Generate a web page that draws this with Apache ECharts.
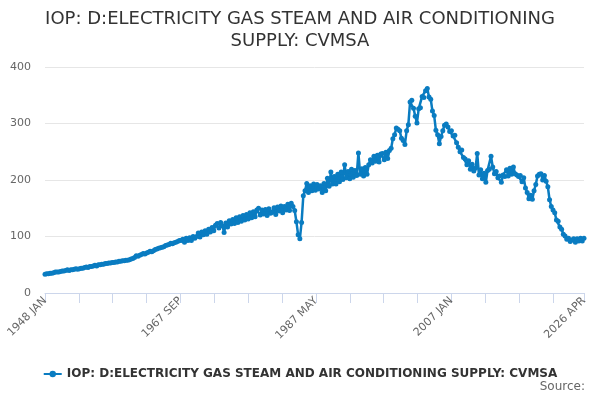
<!DOCTYPE html>
<html>
<head>
<meta charset="utf-8">
<script src="https://cdn.jsdelivr.net/npm/echarts@6/dist/echarts.min.js"></script>
<style>
  html, body { margin: 0; padding: 0; background: #fff; }
  #chart { width: 600px; height: 400px; }
</style>
</head>
<body>
<div id="chart"></div>
<script>
(function () {
  'use strict';

  var MONTHS = ['JAN', 'FEB', 'MAR', 'APR', 'MAY', 'JUN', 'JUL', 'AUG', 'SEP', 'OCT', 'NOV', 'DEC'];
  var FIRST_YEAR = 1948;
  var LAST_YEAR = 2026;
  var LAST_MONTH = 3; // APR

  // readings, one per quarter (JAN, APR, JUL, OCT)
  var values1948to1967 = [
    33, 34, 34, 35,   35, 36, 37, 37,   37, 38, 39, 39,   40, 41, 40, 41,
    41, 42, 43, 42,   43, 44, 44, 45,   46, 45, 47, 47,   48, 49, 48, 50,
    50, 51, 51, 52,   52, 53, 53, 54,   54, 55, 55, 56,   56, 57, 57, 58,
    58, 59, 60, 61,   63, 66, 65, 67,   68, 70, 69, 71,   72, 74, 73, 75,
    77, 78, 79, 80,   81, 82, 84, 85,   86, 88, 87, 89,   90, 91, 93, 93
  ];
  var values1968to1987 = [
    95, 90, 97, 93,   98, 93, 100, 97,  100, 106, 99, 108, 103, 110, 104, 113,
    108, 116, 110, 120, 123, 115, 125, 119, 107, 124, 117, 128, 122, 130, 123, 133,
    125, 135, 127, 137, 129, 139, 131, 142, 133, 144, 135, 147, 150, 138, 147, 140,
    148, 137, 149, 141, 143, 151, 139, 152, 145, 154, 142, 153, 147, 157, 146, 159,
    153, 146, 126, 103, 96, 125, 172, 181, 194, 178, 190, 181, 193, 182, 192, 184
  ];
  var values1988to2007 = [
    190, 178, 194, 181, 203, 189, 214, 193, 206, 193, 210, 197, 214, 201, 227, 204,
    215, 202, 219, 205, 217, 208, 248, 210, 220, 207, 222, 210, 227, 236, 230, 242,
    233, 244, 232, 246, 247, 236, 249, 238, 252, 256, 273, 280, 292, 290, 287, 274,
    270, 263, 287, 298, 338, 341, 327, 313, 301, 326, 328, 348, 346, 358, 362, 347,
    343, 322, 314, 288, 280, 264, 277, 287, 297, 299, 294, 286, 287, 278, 279, 266
  ];
  var values2008to2026 = [
    258, 250, 253, 240, 237, 227, 234, 219, 228, 216, 221, 247, 209, 218, 202, 212,
    196, 217, 219, 242, 223, 211, 215, 204, 207, 196, 209, 206, 218, 207, 221, 210,
    223, 211, 209, 206, 208, 197, 204, 186, 178, 167, 173, 166, 181, 192, 207, 210,
    211, 200, 208, 198, 188, 165, 153, 147, 142, 129, 127, 117, 113, 104, 101, 95,
    97, 91, 94, 96,   90, 96, 92, 97,   92, 97
  ];

  var seriesName = 'IOP: D:ELECTRICITY GAS STEAM AND AIR CONDITIONING SUPPLY: CVMSA';
  var titleText = 'IOP: D:ELECTRICITY GAS STEAM AND AIR CONDITIONING\nSUPPLY: CVMSA';
  var yTicks = { min: 0, max: 400, interval: 100 };

  var categories = [];
  for (var y = FIRST_YEAR; y <= LAST_YEAR; y++) {
    for (var m = 0; m < 12; m++) {
      if (y === LAST_YEAR && m > LAST_MONTH) break;
      categories.push(y + ' ' + MONTHS[m]);
    }
  }

  var quarterly = values1948to1967.concat(values1968to1987, values1988to2007, values2008to2026);
  var data = quarterly.map(function (v, i) { return [categories[i * 3], v]; });

  var COLOR = '#0a7cc1';
  var chart = echarts.init(document.getElementById('chart'), null, { renderer: 'canvas' });
  chart.setOption({
    backgroundColor: '#fff',
    animation: false,
    textStyle: { fontFamily: 'DejaVu Sans' },
    title: [{
      text: titleText,
      left: 'center',
      top: 3,
      textStyle: { fontSize: 18, fontWeight: 'normal', color: '#333', lineHeight: 22, fontFamily: 'DejaVu Sans' }
    }, {
      text: 'Source:',
      right: 10,
      bottom: 2,
      textStyle: { fontSize: 12, fontWeight: 'normal', color: '#666', fontFamily: 'DejaVu Sans' }
    }],
    grid: { left: 45, right: 16, top: 67, bottom: 107, containLabel: false },
    legend: {
      bottom: 15,
      left: 'center',
      itemWidth: 18,
      itemHeight: 8,
      textStyle: { fontSize: 12, fontWeight: 'bold', color: '#333', fontFamily: 'DejaVu Sans' },
      data: [seriesName]
    },
    xAxis: {
      type: 'category',
      data: categories,
      boundaryGap: false,
      axisLine: { lineStyle: { color: '#ccd6eb' } },
      axisTick: { interval: 58, length: 10, lineStyle: { color: '#ccd6eb' } },
      axisLabel: {
        interval: 235,
        showMaxLabel: true,
        rotate: 45,
        color: '#666',
        fontSize: 11,
        margin: 6
      },
      splitLine: { show: false }
    },
    yAxis: {
      type: 'value',
      min: yTicks.min,
      max: yTicks.max,
      interval: yTicks.interval,
      axisLine: { show: false },
      axisTick: { show: false },
      axisLabel: { color: '#666', fontSize: 11, margin: 14 },
      splitLine: { lineStyle: { color: '#e6e6e6' } }
    },
    series: [{
      name: seriesName,
      type: 'line',
      data: data,
      color: COLOR,
      symbol: 'circle',
      symbolSize: 5,
      showSymbol: true,
      showAllSymbol: true,
      lineStyle: { width: 2.5, color: COLOR },
      itemStyle: { color: COLOR }
    }]
  });
})();
</script>
</body>
</html>
